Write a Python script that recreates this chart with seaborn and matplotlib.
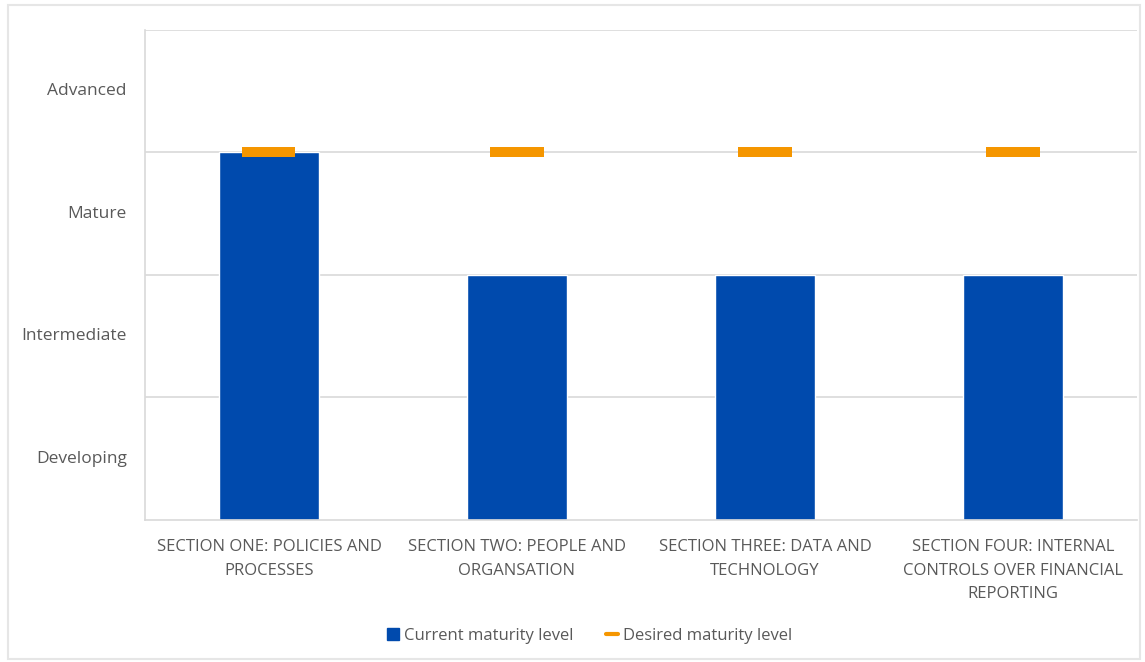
import matplotlib.pyplot as plt
import seaborn as sns
import pandas as pd
from matplotlib.patches import Rectangle, Patch
from matplotlib.lines import Line2D
from matplotlib.transforms import offset_copy

# Data
sections = [
    "SECTION ONE: POLICIES AND\nPROCESSES",
    "SECTION TWO: PEOPLE AND\nORGANSATION",
    "SECTION THREE: DATA AND\nTECHNOLOGY",
    "SECTION FOUR: INTERNAL\nCONTROLS OVER FINANCIAL\nREPORTING",
]
current_level = [3, 2, 2, 2]
desired_level = [3, 3, 3, 3]
level_names = ["Developing", "Intermediate", "Mature", "Advanced"]

df = pd.DataFrame({"section": sections, "current": current_level, "desired": desired_level})

sns.set_style("white")
plt.rcParams["font.family"] = ["Open Sans", "DejaVu Sans"]

blue = "#004AAD"
orange = "#F59600"
grey_text = "#595959"
grid_col = "#D9D9D9"

fig = plt.figure(figsize=(11.45, 6.62), dpi=100)
ax = fig.add_axes([0.1266, 0.2145, 0.8664, 0.7402])

# outer chart border
fig.patches.append(Rectangle((0.007, 0.004), 0.989, 0.988, transform=fig.transFigure,
                             fill=False, edgecolor="#E6E6E6", linewidth=1.5))

sns.barplot(data=df, x="section", y="current", color=blue, width=0.4,
            saturation=1, ax=ax, zorder=2)

# desired level markers
ax.hlines(df["desired"], df.index - 0.107, df.index + 0.107, colors=orange,
          linewidth=7.2, zorder=3, capstyle="butt")

ax.set_ylim(0, 4)
ax.set_xlim(-0.5, 3.5)
ax.set_yticks([1, 2, 3, 4])
ax.set_yticklabels([])
ax.yaxis.grid(True, color=grid_col, linewidth=1.2, zorder=0)
ax.set_axisbelow(True)

# level names sit in the middle of each band
label_tr = offset_copy(ax.transAxes, fig=fig, x=-18, y=0, units="dots")
for i, name in enumerate(level_names):
    ax.text(0, (i + 0.5) / 4, name, transform=label_tr, ha="right",
            va="center", fontsize=12.5, color=grey_text)

ax.tick_params(axis="both", length=0)
ax.tick_params(axis="x", labelsize=12, labelcolor=grey_text, pad=14)
for lbl in ax.get_xticklabels():
    lbl.set_ha("center")
    lbl.set_linespacing(1.62)
ax.set_xlabel("")
ax.set_ylabel("")

for s in ["top", "right"]:
    ax.spines[s].set_visible(False)
for s in ["left", "bottom"]:
    ax.spines[s].set_color(grid_col)
    ax.spines[s].set_linewidth(1.2)

handles = [
    Patch(facecolor=blue, edgecolor=blue, label="Current maturity level"),
    Line2D([0], [0], color=orange, linewidth=3, label="Desired maturity level"),
]
fig.legend(handles=handles, loc="center", bbox_to_anchor=(0.515, 0.04), ncol=2,
           frameon=False, fontsize=12, labelcolor=grey_text, handlelength=0.7,
           handleheight=0.7, handletextpad=0.3, columnspacing=2.0)

fig.savefig("out.png", dpi=100)
